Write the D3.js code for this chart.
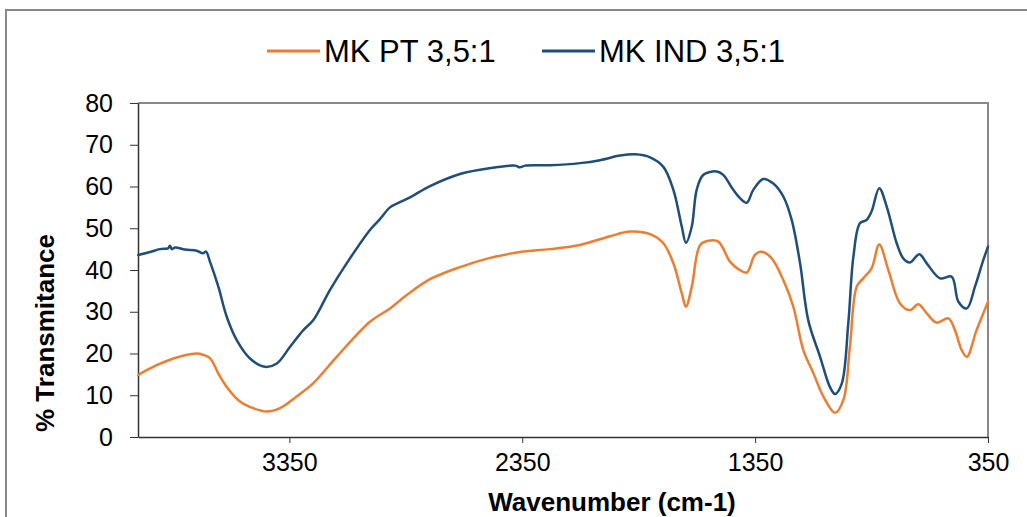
<!DOCTYPE html>
<html>
<head>
<meta charset="utf-8">
<script src="https://cdn.jsdelivr.net/npm/d3@7"></script>
<style>
  body { margin: 0; background: #fff; }
  svg { display: block; font-family: "Liberation Sans", Arial, sans-serif; }
</style>
</head>
<body>
<svg id="chart" width="1027" height="517"></svg>
<script>
// wavenumber (cm-1) / % transmitance
const wnPT = [3999, 3920, 3848, 3798, 3748, 3721, 3691, 3655, 3619, 3562, 3505, 3447, 3390, 3319, 3247, 3147, 3004, 2918, 2846, 2746, 2617, 2488, 2360, 2231, 2102, 1973, 1887, 1801, 1744, 1701, 1665, 1647, 1622, 1586, 1551, 1508, 1458, 1422, 1386, 1351, 1322, 1279, 1229, 1186, 1143, 1100, 1057, 1007, 971, 943, 914, 886, 850, 817, 778, 728, 685, 649, 613, 571, 520, 492, 463, 441, 399, 350];
const valPT = [14.9, 17.2, 18.8, 19.6, 20.0, 19.7, 18.9, 15.2, 12.0, 8.5, 6.9, 6.1, 6.9, 9.7, 12.9, 19.2, 27.6, 30.8, 34.0, 37.8, 40.7, 42.9, 44.3, 45.0, 46.0, 48.1, 49.2, 48.6, 46.4, 41.6, 34.4, 31.2, 36.0, 46.0, 47.0, 46.8, 42.0, 40.2, 39.4, 43.6, 44.4, 42.8, 37.6, 31.2, 20.8, 15.3, 9.7, 5.8, 8.9, 21.6, 36.0, 38.0, 40.4, 46.1, 40.0, 32.0, 30.4, 31.8, 29.6, 27.4, 28.4, 25.6, 20.8, 19.2, 25.6, 32.4];

const wnIND = [3999, 3948, 3906, 3871, 3863, 3855, 3841, 3798, 3748, 3721, 3708, 3691, 3655, 3619, 3576, 3519, 3455, 3404, 3347, 3290, 3247, 3176, 3104, 3004, 2961, 2918, 2884, 2832, 2746, 2617, 2488, 2381, 2360, 2338, 2231, 2102, 2016, 1930, 1866, 1801, 1744, 1701, 1665, 1647, 1622, 1601, 1572, 1515, 1487, 1444, 1415, 1386, 1358, 1315, 1272, 1229, 1193, 1157, 1122, 1071, 1029, 1007, 978, 950, 928, 900, 871, 850, 817, 785, 742, 714, 685, 645, 613, 556, 506, 477, 441, 406, 370, 350];
const valIND = [43.6, 44.3, 45.0, 45.2, 45.8, 45.0, 45.4, 44.9, 44.6, 44.0, 44.4, 42.0, 36.0, 28.8, 23.2, 18.8, 16.8, 17.6, 21.6, 25.6, 28.0, 35.2, 41.6, 49.6, 52.2, 55.0, 56.0, 57.4, 60.1, 63.0, 64.4, 65.0, 64.6, 65.0, 65.1, 65.6, 66.3, 67.4, 67.7, 67.0, 64.7, 59.2, 50.4, 46.5, 50.4, 59.2, 62.8, 63.6, 62.8, 59.2, 57.2, 56.1, 59.2, 61.8, 60.7, 57.6, 52.0, 41.6, 28.0, 19.2, 12.0, 10.3, 12.8, 27.2, 43.2, 51.2, 52.0, 54.0, 59.6, 55.2, 46.4, 42.8, 41.8, 43.8, 41.6, 38.0, 38.4, 32.4, 30.8, 36.0, 42.4, 45.6];

const seriesNames = ["MK PT 3,5:1", "MK IND 3,5:1"];
const colors = ["#ed7d31", "#1f4e79"];
const xTicks = [3350, 2350, 1350, 350];
const yTicks = [0, 10, 20, 30, 40, 50, 60, 70, 80];

const svg = d3.select("#chart");
const margin = { top: 103, right: 39, bottom: 80, left: 138 };
const width = 1027, height = 517;

// outer chart frame (runs off the right and bottom edge)
svg.append("path")
  .attr("d", "M6,1000 V10 H1100")
  .attr("fill", "none")
  .attr("stroke", "#888")
  .attr("stroke-width", 2);

const x = d3.scaleLinear()
  .domain([4000, 350])
  .range([margin.left, width - margin.right]);

const y = d3.scaleLinear()
  .domain([0, 80])
  .range([height - margin.bottom, margin.top]);

// plot frame top + right
svg.append("path")
  .attr("d", `M${x.range()[0]},${y(80)} H${x.range()[1]} V${y(0)}`)
  .attr("fill", "none")
  .attr("stroke", "#888")
  .attr("stroke-width", 2);

const yAxis = (g) =>
  g
    .attr("transform", `translate(${margin.left},0)`)
    .call(d3.axisLeft(y).tickValues(yTicks).tickSize(8).tickPadding(17).tickSizeOuter(0))
    .call((g) => g.select(".domain").attr("stroke", "#333").attr("stroke-width", 1.5))
    .call((g) => g.selectAll(".tick line").attr("stroke", "#333"))
    .call((g) =>
      g.selectAll(".tick text")
        .attr("font-size", 25)
        .attr("fill", "#000")
        .attr("font-family", "Liberation Sans, Arial, sans-serif")
    );

const xAxis = (g) =>
  g
    .attr("transform", `translate(0,${y(0)})`)
    .call(d3.axisBottom(x).tickValues(xTicks).tickFormat(d3.format("d")).tickSize(6).tickPadding(10).tickSizeOuter(0))
    .call((g) => g.select(".domain").attr("stroke", "#333").attr("stroke-width", 1.5))
    .call((g) => g.selectAll(".tick line").attr("stroke", "#333"))
    .call((g) =>
      g.selectAll(".tick text")
        .attr("font-size", 25)
        .attr("fill", "#000")
        .attr("font-family", "Liberation Sans, Arial, sans-serif")
    );

svg.append("g").call(xAxis);
svg.append("g").call(yAxis);

const line = d3
  .line()
  .x((d) => x(d[0]))
  .y((d) => y(d[1]))
  .curve(d3.curveCatmullRom.alpha(0.5));

const data = [
  d3.zip(wnPT, valPT),
  d3.zip(wnIND, valIND),
];

data.forEach((d, i) => {
  svg
    .append("path")
    .datum(d)
    .attr("fill", "none")
    .attr("stroke", colors[i])
    .attr("stroke-width", 2.5)
    .attr("stroke-linejoin", "round")
    .attr("stroke-linecap", "round")
    .attr("d", line);
});

// legend
const legendX = [267, 542];
const legend = svg.append("g");
seriesNames.forEach((name, i) => {
  legend.append("line")
    .attr("x1", legendX[i]).attr("x2", legendX[i] + 53)
    .attr("y1", 51).attr("y2", 51)
    .attr("stroke", colors[i])
    .attr("stroke-width", 3);
  legend.append("text")
    .attr("x", legendX[i] + 57)
    .attr("y", 62)
    .attr("font-size", 31)
    .attr("fill", "#000")
    .text(name);
});

// axis titles
svg.append("text")
  .attr("x", 612)
  .attr("y", 511)
  .attr("text-anchor", "middle")
  .attr("font-size", 26)
  .attr("font-weight", "bold")
  .text("Wavenumber (cm-1)");

svg.append("text")
  .attr("transform", "translate(54,333) rotate(-90)")
  .attr("text-anchor", "middle")
  .attr("font-size", 26)
  .attr("font-weight", "bold")
  .text("% Transmitance");
</script>
</body>
</html>
